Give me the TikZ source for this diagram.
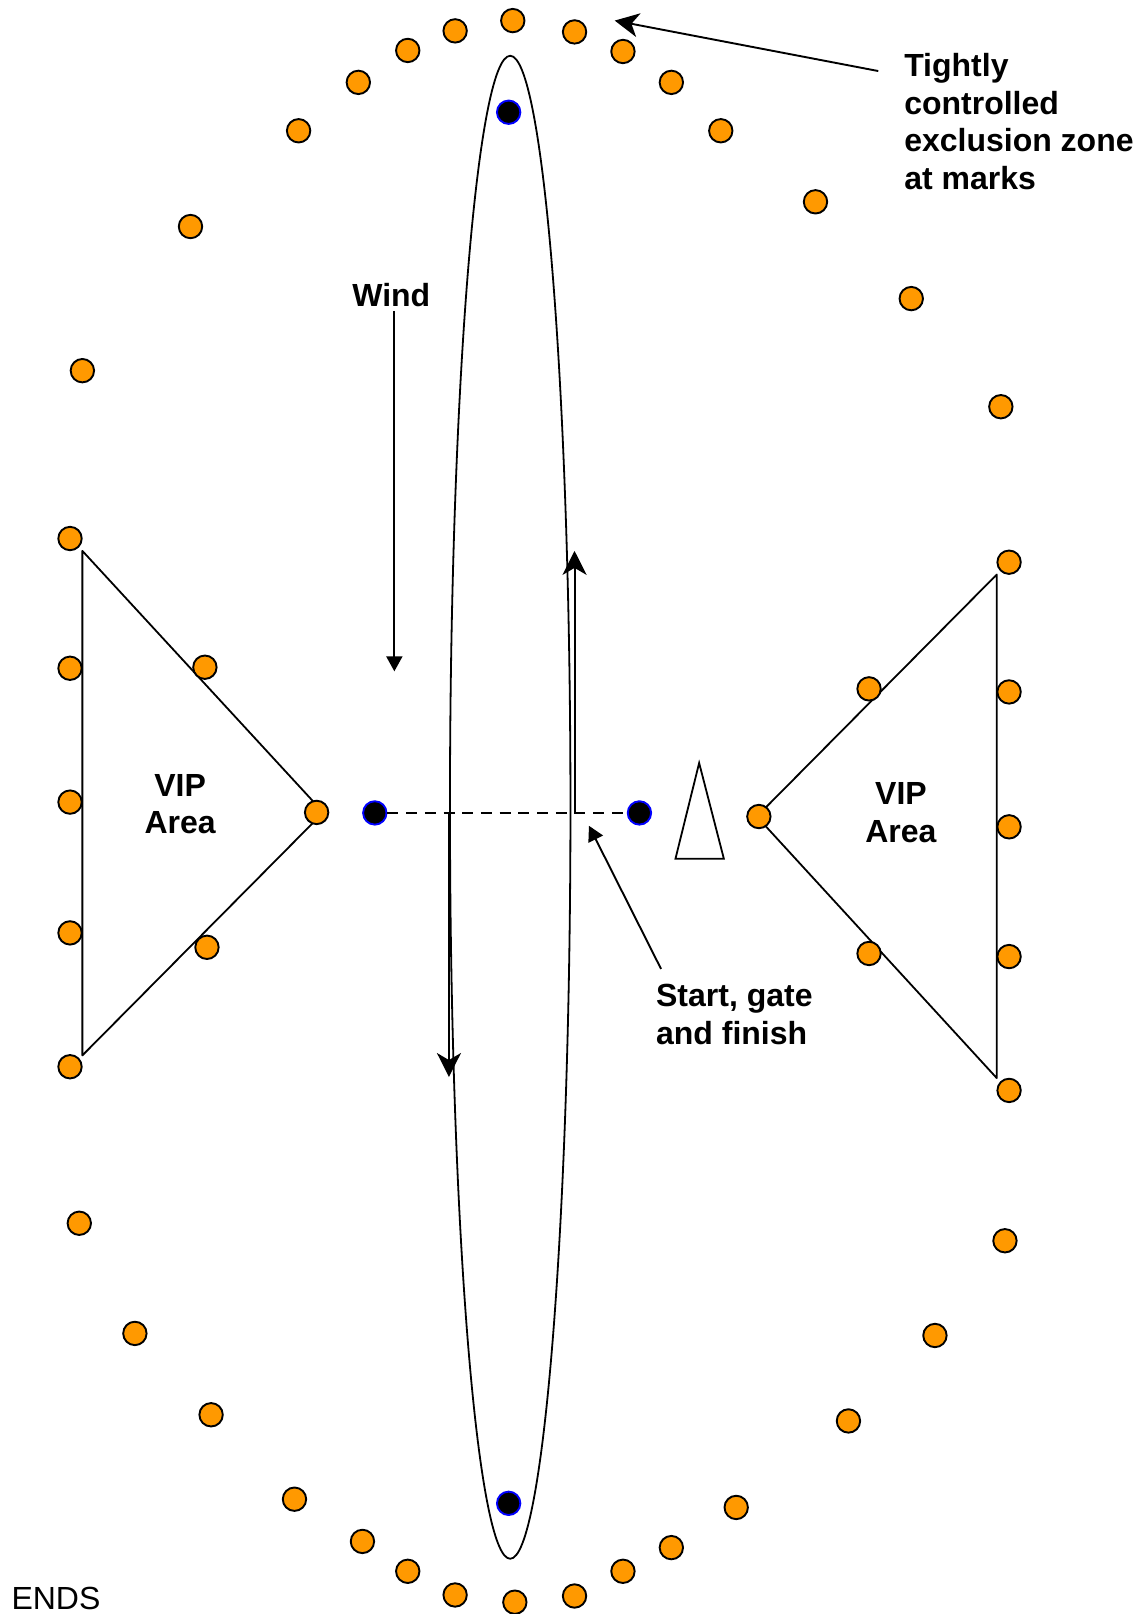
\documentclass[tikz,border=0pt]{standalone}
\usepackage{fontspec}
\setmainfont{Liberation Sans}
\usetikzlibrary{arrows.meta,shapes.geometric}
\definecolor{markorange}{RGB}{255,153,0}
\tikzset{
  mark dot/.style={circle,draw=black,fill=markorange,line width=1.9pt,minimum size=23.4pt,inner sep=0pt},
  buoy/.style={circle,draw=blue,fill=black,line width=1.9pt,minimum size=23.4pt,inner sep=0pt},
  outline/.style={draw=black,line width=1.8pt},
  bigtip/.style={-{Stealth[length=24pt,width=24pt,inset=7pt]},line width=1.9pt},
  smalltip/.style={-{Triangle[length=15pt,width=16pt]},line width=1.9pt},
  label/.style={font=\fontsize{32}{37.6}\selectfont\bfseries,inner sep=0pt,align=left},
  clabel/.style={font=\fontsize{32}{37.6}\selectfont\bfseries,inner sep=0pt,align=center}
}
\begin{document}
\begin{tikzpicture}[x=1.02968pt,y=-1.02968pt]
\useasboundingbox (0,0) rectangle (1112,1567.5);
\node[ellipse,outline,minimum width=120.5pt,minimum height=1503pt,inner sep=0pt] (course) at (495.5,784) {};
\draw[outline,line join=round] (80,535) -- (314,789) -- (80,1025) -- cycle;
\draw[outline,line join=round] (968,558) -- (735,793) -- (968,1047) -- cycle;
\draw[outline,line join=miter] (679,741) -- (703,834) -- (656,834) -- cycle;
\foreach \n/\x/\y in {1/498/20,2/442/30,3/396/49,4/348/80,5/290/127,6/185/220,7/80/360,8/68/523,9/68/649,10/68/779,11/68/906,12/68/1036,13/77/1188,14/131/1295,15/205/1374,16/286/1456,17/352/1497,18/396/1526,19/442/1549,20/500/1556,21/558/1550,22/605/1526,23/652/1503,24/715/1464,25/824/1380,26/908/1297,27/976/1205,28/980/1059,29/980/929,30/980/803,31/980/672,32/980/546,33/972/395,34/885/290,35/792/196,36/700/127,37/652/80,38/605/50,39/558/31,40/199/648,41/307.5/789,42/201/920,43/844/669,44/737/793,45/844/926}
  \node[mark dot] (d\n) at (\x,\y) {};
\node[buoy] (topb) at (494,109) {};
\node[buoy] (botb) at (494,1460) {};
\node[buoy] (pin) at (364,789.5) {};
\node[buoy] (boat) at (621,789.5) {};
\draw[draw=black,line width=2pt,dash pattern=on 11pt off 7.7pt] (pin) -- (boat);
\coordinate (upS) at (558,790);
\coordinate (upE) at (558,535);
\coordinate (dnS) at (436,790);
\coordinate (dnE) at (436,1046);
\coordinate (windS) at (383,302);
\coordinate (windE) at (383,652);
\coordinate (exS) at (853,69);
\coordinate (exE) at (597,20);
\coordinate (sgS) at (642,941);
\coordinate (sgE) at (572,802);
\draw[bigtip] (upS) -- (upE);
\draw[bigtip] (dnS) -- (dnE);
\draw[smalltip] (windS) -- (windE);
\draw[bigtip] (exS) -- (exE);
\draw[smalltip] (sgS) -- (sgE);
\node[clabel] (wind) at (380,287) {Wind};
\node[clabel] (vipl) at (175,781) {VIP\\Area};
\node[clabel] (vipr) at (875,789) {VIP\\Area};
\node[label,anchor=north west] (excl) at (878,51.5) {Tightly\\controlled\\exclusion zone\\at marks};
\node[label,anchor=north west] (start) at (637,956) {Start, gate\\and finish};
\node[font=\fontsize{32}{37}\selectfont,inner sep=0pt,anchor=base west] (ends) at (11,1563) {ENDS};
\end{tikzpicture}
\end{document}
